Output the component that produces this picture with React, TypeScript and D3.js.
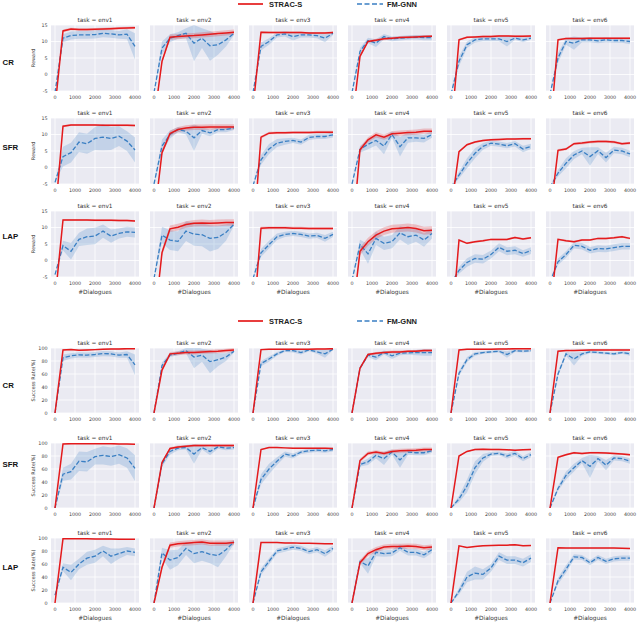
import React from 'react';
import * as d3 from 'd3';

// dialogues seen at each evaluation point
const dialogues = [0, 400, 800, 1200, 1600, 2000, 2400, 2800, 3200, 3600, 4000];
const envs = ['env1', 'env2', 'env3', 'env4', 'env5', 'env6'];
const settings = ['CR', 'SFR', 'LAP'];
const xTicks = [0, 1000, 2000, 3000, 4000];
const rewardTicks = [-5, 0, 5, 10, 15];
const successTicks = [0, 20, 40, 60, 80, 100];

// ---- Reward ----
const rewardStracCR = [
  [-10, 13.2, 13.8, 13.6, 13.6, 13.7, 13.8, 13.9, 14.0, 14.1, 14.2],
  [-14, 4.0, 11.3, 11.5, 11.7, 11.8, 12.0, 12.2, 12.4, 12.6, 12.8],
  [-10, 12.8, 12.7, 12.7, 12.7, 12.7, 12.7, 12.6, 12.6, 12.6, 12.7],
  [-15, 5.5, 10.0, 10.4, 10.8, 11.0, 11.2, 11.3, 11.4, 11.5, 11.6],
  [-18, 10.5, 11.3, 11.4, 11.5, 11.5, 11.7, 11.7, 11.6, 11.6, 11.7],
  [-18, 10.5, 10.9, 10.9, 10.9, 11.0, 11.0, 11.0, 11.0, 11.0, 11.0],
];
const rewardStracBandCR = [0.4, 0.8, 0.3, 0.4, 0.3, 0.3];
const rewardFmgnnCR = [
  [-5.5, 11.0, 11.8, 12.0, 12.0, 12.1, 12.5, 12.3, 12.0, 12.2, 8.5],
  [-5.5, 8.0, 11.0, 11.8, 12.5, 9.5, 11.0, 8.7, 9.0, 10.5, 12.5],
  [-5.5, 8.5, 10.0, 12.0, 12.3, 11.5, 12.0, 12.0, 11.8, 11.0, 12.5],
  [-5.5, 7.0, 10.3, 9.5, 11.5, 10.8, 11.0, 11.2, 11.3, 11.2, 11.2],
  [-6, 4.0, 9.0, 10.5, 10.8, 10.8, 10.8, 10.0, 11.0, 10.5, 11.0],
  [-6, 5.0, 10.0, 9.5, 10.5, 10.5, 10.2, 10.5, 10.3, 10.3, 10.0],
];
const rewardFmgnnBandCR = [
  [0, 1.2, 1.2, 1.2, 1.2, 1.2, 1.2, 1.2, 1.2, 1.5, 4.0],
  [0, 2.0, 1.2, 1.0, 1.5, 5.5, 3.0, 4.5, 3.0, 2.0, 0.5],
  [0, 1.2, 1.0, 0.8, 0.8, 1.2, 0.8, 0.8, 0.8, 1.2, 0.5],
  [0, 1.0, 0.8, 1.2, 0.8, 0.7, 0.7, 0.7, 0.7, 0.8, 0.8],
  [0, 1.5, 1.0, 0.8, 0.7, 0.7, 0.7, 1.5, 0.5, 0.7, 0.5],
  [0, 1.5, 1.0, 2.0, 0.7, 0.7, 0.7, 0.7, 0.7, 0.7, 0.8],
];
const rewardStracSFR = [
  [-15, 12.5, 12.9, 12.9, 12.9, 12.9, 12.8, 12.8, 12.8, 12.8, 12.7],
  [-16, 4.5, 10.3, 11.5, 12.0, 12.2, 12.2, 12.3, 12.3, 12.3, 12.3],
  [-22, 9.2, 10.4, 10.5, 10.5, 10.6, 10.6, 10.6, 10.7, 10.7, 10.7],
  [-22, 5.4, 8.4, 9.9, 9.2, 10.2, 10.4, 10.6, 10.7, 11.0, 11.0],
  [-13, 4.8, 6.9, 7.7, 8.2, 8.4, 8.5, 8.6, 8.6, 8.7, 8.7],
  [-15, 5.2, 5.6, 7.2, 7.4, 7.7, 7.9, 7.9, 7.7, 7.2, 7.4],
];
const rewardStracBandSFR = [0.3, 0.8, 0.4, 0.8, 0.3, 0.4];
const rewardFmgnnSFR = [
  [-4.5, 3.3, 4.5, 7.7, 7.2, 8.8, 9.2, 8.8, 9.5, 8.0, 5.3],
  [-5, 6.5, 10.0, 11.5, 11.0, 9.0, 11.2, 10.5, 11.5, 11.5, 12.0],
  [-5.5, 2.3, 5.6, 7.4, 7.9, 8.2, 7.7, 9.1, 9.4, 9.4, 9.9],
  [-5, 5.5, 7.0, 8.2, 6.5, 10.0, 6.3, 9.0, 9.0, 8.8, 10.0],
  [-6, -2.3, 1.3, 4.3, 6.4, 7.4, 7.1, 6.6, 7.2, 5.6, 6.4],
  [-6, -1.7, 1.3, 3.8, 5.0, 3.3, 5.1, 3.0, 5.3, 5.0, 4.1],
];
const rewardFmgnnBandSFR = [
  [0, 3.0, 3.0, 3.0, 3.0, 3.5, 4.0, 3.5, 3.0, 3.0, 3.8],
  [0, 2.0, 1.2, 0.8, 1.0, 4.0, 1.0, 1.0, 0.8, 0.8, 0.6],
  [0, 1.5, 1.5, 1.2, 1.0, 0.8, 0.8, 0.8, 0.8, 0.8, 0.8],
  [0, 1.0, 1.5, 1.5, 2.5, 1.0, 3.0, 1.5, 1.2, 1.2, 1.0],
  [0, 1.0, 1.5, 1.5, 1.0, 0.8, 0.8, 0.8, 0.8, 1.0, 0.8],
  [0, 1.0, 1.5, 1.2, 1.0, 2.8, 1.0, 1.5, 1.0, 1.0, 1.0],
];
const rewardStracLAP = [
  [-12, 12.3, 12.3, 12.3, 12.3, 12.2, 12.2, 12.2, 12.1, 12.1, 12.0],
  [-20, 2.4, 9.6, 10.1, 10.9, 11.3, 11.4, 11.3, 11.4, 11.5, 11.5],
  [-20, 9.8, 9.9, 9.9, 9.9, 9.8, 9.8, 9.7, 9.7, 9.7, 9.7],
  [-18, 2.8, 5.7, 7.7, 8.9, 9.6, 9.8, 10.0, 9.7, 9.0, 9.2],
  [-23, 6.2, 5.2, 5.7, 6.0, 6.4, 6.4, 6.4, 7.0, 6.5, 6.9],
  [-16, 6.4, 6.0, 5.7, 6.2, 6.2, 6.7, 6.7, 6.9, 7.2, 6.7],
];
const rewardStracBandLAP = [0.3, 1.0, 0.4, 1.2, 0.3, 0.3];
const rewardFmgnnLAP = [
  [-4.3, 4.5, 2.8, 6.4, 7.2, 7.4, 8.9, 7.4, 8.2, 8.7, 8.5],
  [-5.5, 7.7, 6.2, 5.8, 8.9, 8.0, 7.8, 6.7, 7.0, 8.5, 11.0],
  [-5.5, 2.3, 4.8, 7.2, 7.9, 8.2, 7.9, 7.4, 7.6, 6.7, 7.9],
  [-6, 4.8, 2.0, 6.7, 5.2, 5.7, 8.4, 7.2, 7.7, 6.2, 8.2],
  [-7, -3.0, -0.6, 0.6, 0.4, 1.8, 4.0, 2.8, 3.1, 2.1, 3.0],
  [-6.5, -0.4, 1.8, 4.6, 4.3, 3.1, 3.6, 3.5, 3.9, 4.3, 4.3],
];
const rewardFmgnnBandLAP = [
  [0, 1.5, 2.5, 2.0, 2.5, 2.5, 2.0, 2.0, 1.5, 1.5, 1.5],
  [0, 2.5, 3.0, 3.0, 3.0, 3.5, 3.5, 4.0, 3.5, 2.5, 0.5],
  [0, 1.2, 1.2, 1.0, 0.8, 0.8, 0.8, 0.8, 0.8, 1.0, 0.8],
  [0, 1.5, 3.0, 2.0, 2.0, 2.0, 2.0, 2.5, 2.0, 2.0, 1.5],
  [0, 1.0, 1.3, 1.3, 1.3, 1.2, 1.2, 1.2, 1.2, 1.0, 1.0],
  [0, 1.0, 1.0, 1.0, 1.0, 1.0, 1.0, 1.0, 1.0, 1.0, 1.0],
];

// ---- Success rate ----
const successStracCR = [
  [0, 97, 97.5, 96.5, 97, 97.5, 98, 98.5, 98.5, 99, 99],
  [0, 66, 91, 92, 93, 93, 94, 94.5, 95, 96, 97],
  [0, 97.5, 98, 98, 98, 98, 98, 98, 98.5, 98.5, 99],
  [0, 69, 90, 92, 93, 94, 94, 95, 95, 96, 96],
  [0, 97, 98, 98, 98, 98, 98.5, 98.5, 99, 99, 99],
  [0, 95, 96, 96, 96.5, 97, 97, 97, 97, 97, 97],
];
const successStracBandCR = [1, 3, 1, 2, 1, 1];
const successFmgnnCR = [
  [0, 85, 88, 89.5, 89, 90, 91.5, 91, 89, 90, 74],
  [0, 73, 89, 92, 96, 86, 89, 79, 82, 86, 95],
  [0, 76, 83, 91, 96, 96, 93, 97, 94, 91, 98],
  [0, 69, 89, 86, 93, 88, 92, 92.5, 93, 93, 93],
  [0, 61, 82, 91, 93, 94, 95, 90, 96, 95, 96],
  [0, 60, 91, 83, 91, 94, 93, 92, 91, 93, 91],
];
const successFmgnnBandCR = [
  [0, 5, 4, 4, 4, 4, 4, 4, 4, 5, 16],
  [0, 5, 3, 3, 4, 17, 10, 18, 10, 6, 2],
  [0, 4, 4, 3, 2, 3, 3, 2, 3, 6, 1],
  [0, 3, 3, 5, 3, 5, 3, 3, 4, 5, 5],
  [0, 4, 4, 3, 2, 2, 2, 5, 2, 2, 2],
  [0, 4, 3, 10, 3, 2, 2, 2, 2, 2, 3],
];
const successStracSFR = [
  [0, 98.5, 99, 99, 99, 99, 99, 99, 98.5, 98.5, 98],
  [0, 70, 91.5, 94, 95, 96, 96, 96, 96, 96, 96],
  [0, 90, 93, 93, 92.5, 92, 92, 92, 92, 92, 91.5],
  [0, 73, 84, 86, 84, 87, 88, 88.5, 89, 90, 90],
  [0, 80, 87, 90, 90.5, 90, 90, 89.5, 89, 89.5, 90],
  [0, 78, 82, 85, 84, 85, 85, 84.5, 84, 83, 82],
];
const successStracBandSFR = [0.5, 2, 1, 3, 1, 1.5];
const successFmgnnSFR = [
  [0, 52, 56, 72, 71, 79, 81, 79, 82, 77, 61],
  [0, 68, 87, 92, 93, 83, 93, 87, 94, 92, 93],
  [0, 44, 60, 72, 83, 80, 86, 88, 89, 88, 90],
  [0, 67, 71, 81, 76, 86, 74, 86, 85, 85, 88],
  [0, 14, 34, 62, 77, 83, 84, 80, 84, 76, 82],
  [0, 30, 50, 62, 73, 64, 76, 66, 77, 76, 72],
];
const successFmgnnBandSFR = [
  [0, 10, 12, 15, 15, 12, 14, 14, 14, 15, 20],
  [0, 5, 5, 3, 3, 15, 3, 6, 3, 3, 3],
  [0, 8, 8, 6, 4, 4, 3, 3, 3, 3, 3],
  [0, 3, 5, 5, 10, 4, 12, 4, 4, 4, 3],
  [0, 5, 10, 10, 6, 3, 3, 4, 4, 4, 4],
  [0, 4, 6, 6, 4, 18, 4, 8, 4, 4, 4],
];
const successStracLAP = [
  [0, 99, 99, 99, 98.8, 98.6, 98.5, 98.3, 98.2, 98, 98],
  [0, 55, 89, 91, 92, 93, 94, 92, 92, 92, 93],
  [0, 93, 93, 93, 92.5, 92.5, 92, 92, 91.5, 91, 91],
  [0, 62, 76, 82, 86, 87, 87, 87.5, 87, 85, 86],
  [0, 88, 85.5, 87, 88, 88.5, 89, 89, 89.5, 88, 88.5],
  [0, 85, 84.5, 84.5, 84.5, 84.5, 84.5, 84.5, 84.5, 84.3, 84],
];
const successStracBandLAP = [0.5, 4, 0.5, 4, 0.8, 0.5];
const successFmgnnLAP = [
  [12, 55, 47, 60, 69, 72, 80, 72, 76, 80, 78],
  [0, 77, 66, 70, 84, 76, 79, 75, 73, 82, 94],
  [0, 48, 64, 80, 83, 86, 84, 79, 82, 76, 84],
  [0, 64, 57, 78, 76, 77, 85, 78, 78, 74, 82],
  [0, 18, 40, 46, 44, 54, 72, 66, 66, 62, 69],
  [0, 34, 52, 71, 70, 62, 70, 64, 68, 69, 69],
];
const successFmgnnBandLAP = [
  [0, 6, 12, 8, 10, 10, 8, 12, 8, 6, 6],
  [0, 8, 15, 12, 10, 15, 14, 14, 18, 10, 3],
  [0, 5, 5, 4, 4, 4, 4, 4, 4, 5, 4],
  [0, 3, 12, 6, 5, 5, 5, 5, 5, 5, 5],
  [0, 5, 8, 10, 8, 6, 6, 6, 6, 6, 6],
  [0, 5, 6, 4, 4, 4, 4, 4, 4, 4, 4],
];

const RED = '#e41a1c';
const BLUE = '#3a7fc3';
const FONT = 'DejaVu Sans';

const blocks = [
  {
    key: 'reward', yLabel: 'Reward', domain: [-5, 15], ticks: rewardTicks,
    top: 25, rowStep: 93, h: 66, legendY: 4, rowLabelY: [62, 147, 236],
    red: [rewardStracCR, rewardStracSFR, rewardStracLAP],
    redBand: [rewardStracBandCR, rewardStracBandSFR, rewardStracBandLAP],
    blue: [rewardFmgnnCR, rewardFmgnnSFR, rewardFmgnnLAP],
    blueBand: [rewardFmgnnBandCR, rewardFmgnnBandSFR, rewardFmgnnBandLAP],
  },
  {
    key: 'success', yLabel: 'Success Rate(%)', domain: [0, 100], ticks: successTicks,
    top: 348, rowStep: 95, h: 65, legendY: 321, rowLabelY: [385, 464, 567],
    red: [successStracCR, successStracSFR, successStracLAP],
    redBand: [successStracBandCR, successStracBandSFR, successStracBandLAP],
    blue: [successFmgnnCR, successFmgnnSFR, successFmgnnLAP],
    blueBand: [successFmgnnBandCR, successFmgnnBandSFR, successFmgnnBandLAP],
  },
];

const panelX0 = 51;
const panelStep = 99;
const panelW = 88;

function Panel({ block, r, c }) {
  const left = panelX0 + panelStep * c;
  const top = block.top + block.rowStep * r;
  const bottom = top + block.h;
  const x = d3.scaleLinear().domain([-200, 4200]).range([left, left + panelW]);
  const y = d3.scaleLinear().domain(block.domain).range([bottom, top]);
  const redVals = block.red[r][c];
  const blueVals = block.blue[r][c];
  const redBw = dialogues.map((_, i) => (i === 0 ? 0 : block.redBand[r][c]));
  const blueBw = block.blueBand[r][c];
  const line = d3.line<number>().x((_, i) => x(dialogues[i])).y((d) => y(d));
  const band = (vals, bw) =>
    d3.area<number>()
      .x((_, i) => x(dialogues[i]))
      .y0((d, i) => y(d - bw[i]))
      .y1((d, i) => y(d + bw[i]))(vals);
  const clipId = `clip-${block.key}-${r}-${c}`;
  const lastRow = r === settings.length - 1;

  return (
    <g>
      <defs>
        <clipPath id={clipId}>
          <rect x={left} y={top} width={panelW} height={block.h} />
        </clipPath>
      </defs>
      <rect x={left} y={top} width={panelW} height={block.h} fill="#eaeaf2" />
      {xTicks.map((t) => (
        <line key={'gx' + t} x1={x(t)} x2={x(t)} y1={top} y2={bottom} stroke="#fff" strokeWidth={0.8} />
      ))}
      {block.ticks.map((t) => (
        <line key={'gy' + t} x1={left} x2={left + panelW} y1={y(t)} y2={y(t)} stroke="#fff" strokeWidth={0.8} />
      ))}
      <g clipPath={`url(#${clipId})`}>
        <path d={band(blueVals, blueBw)} fill={BLUE} fillOpacity={0.22} />
        <path d={band(redVals, redBw)} fill={RED} fillOpacity={0.22} />
        <path d={line(blueVals)} fill="none" stroke={BLUE} strokeWidth={1.3} strokeDasharray="4.5,2" />
        <path d={line(redVals)} fill="none" stroke={RED} strokeWidth={1.5} />
      </g>
      <text x={left + panelW / 2} y={top - 3} textAnchor="middle" fontSize={5.8} fill="#333">
        {`task = ${envs[c]}`}
      </text>
      {xTicks.map((t) => (
        <text key={'tx' + t} x={x(t)} y={bottom + 8} textAnchor="middle" fontSize={4.8} fill="#444">
          {t}
        </text>
      ))}
      {c === 0 &&
        block.ticks.map((t) => (
          <text key={'ty' + t} x={left - 3.5} y={y(t) + 1.8} textAnchor="end" fontSize={4.8} fill="#444">
            {t}
          </text>
        ))}
      {c === 0 && (
        <text
          transform={`translate(35,${(top + bottom) / 2}) rotate(-90)`}
          textAnchor="middle"
          fontSize={5}
          fill="#333"
        >
          {block.yLabel}
        </text>
      )}
      {lastRow && (
        <text x={left + panelW / 2} y={bottom + 16.5} textAnchor="middle" fontSize={5.8} fill="#333">
          #Dialogues
        </text>
      )}
    </g>
  );
}

function Legend({ y }) {
  return (
    <g fontFamily="Liberation Sans" fontWeight="bold" fontSize={7.5} fill="#222">
      <line x1={238} x2={263} y1={y} y2={y} stroke={RED} strokeWidth={1.7} />
      <text x={269} y={y + 2.7}>STRAC-S</text>
      <line x1={357} x2={383} y1={y} y2={y} stroke={BLUE} strokeWidth={1.5} strokeDasharray="5,2.5" />
      <text x={387} y={y + 2.7}>FM-GNN</text>
    </g>
  );
}

export default function App() {
  return (
    <svg
      width={640}
      height={622}
      style={{ position: 'absolute', left: 0, top: 0, background: '#fff' }}
      fontFamily={FONT}
    >
      {blocks.map((block) => (
        <g key={block.key}>
          <Legend y={block.legendY} />
          {settings.map((s, r) => (
            <g key={s}>
              <text
                x={2.5}
                y={block.rowLabelY[r] + 2.8}
                fontFamily="Liberation Sans"
                fontWeight="bold"
                fontSize={7.8}
                fill="#111"
              >
                {s}
              </text>
              {envs.map((e, c) => (
                <Panel key={e} block={block} r={r} c={c} />
              ))}
            </g>
          ))}
        </g>
      ))}
    </svg>
  );
}
